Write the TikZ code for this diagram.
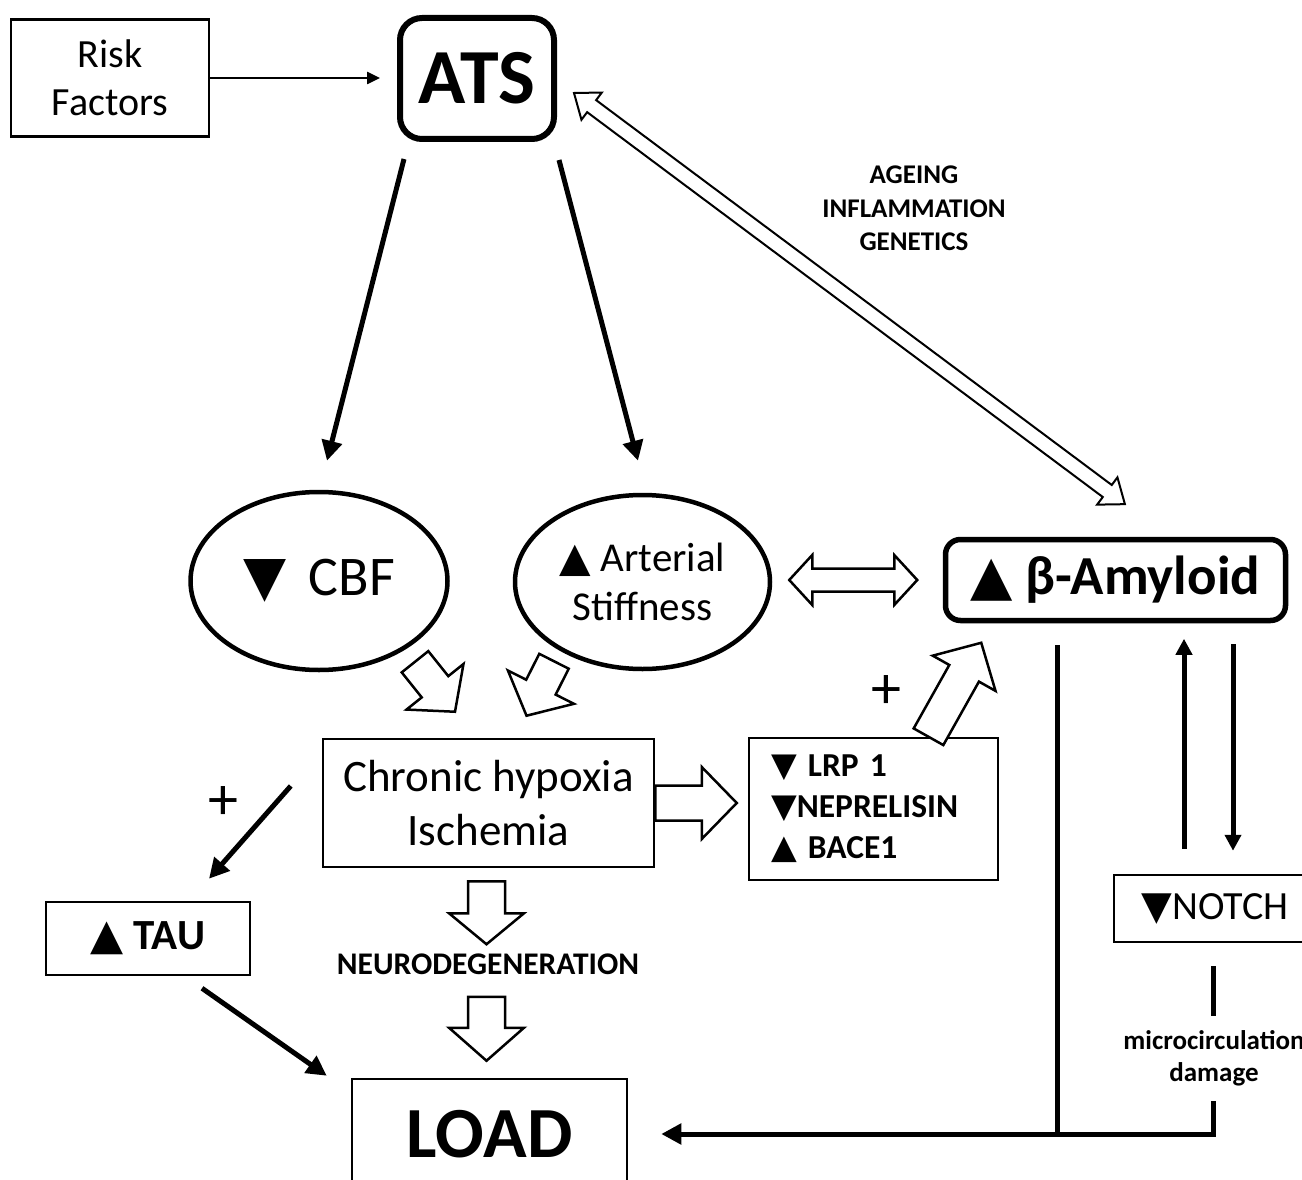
\documentclass[tikz,border=0pt]{standalone}
\usepackage{fontspec}
\setmainfont{Carlito}
\newfontfamily\trifont{DejaVu Sans}
\usepackage{tikz}
\usetikzlibrary{arrows.meta, shapes.geometric, calc, positioning}

\newcommand\triup{{\trifont ▲}}
\newcommand\tridn{{\trifont ▼}}
% hollow block arrows: [opts]{from}{to}{shaft half}{head half}{head length}
\newcommand\hollowarrow[6][]{%
  \draw[hollowline,#1] let \p1=(#2), \p2=(#3), \n1={atan2(\y2-\y1,\x2-\x1)}, \n2={veclen(\x2-\x1,\y2-\y1)} in
    [shift={(\p1)}, rotate=\n1]
    (0,#4) -- ({\n2-#6},#4) -- ({\n2-#6},#5) -- (\n2,0) -- ({\n2-#6},-#5) -- ({\n2-#6},-#4) -- (0,-#4) -- cycle;}
\newcommand\hollowdouble[6][]{%
  \draw[hollowline,#1] let \p1=(#2), \p2=(#3), \n1={atan2(\y2-\y1,\x2-\x1)}, \n2={veclen(\x2-\x1,\y2-\y1)} in
    [shift={(\p1)}, rotate=\n1]
    (0,0) -- (#6,#5) -- (#6,#4) -- ({\n2-#6},#4) -- ({\n2-#6},#5) -- (\n2,0)
    -- ({\n2-#6},-#5) -- ({\n2-#6},-#4) -- (#6,-#4) -- (#6,-#5) -- cycle;}

\begin{document}
\begin{tikzpicture}[x=1pt, y=-1pt,
    box/.style={draw, line width=2.5pt, inner sep=0pt},
    oval/.style={ellipse, draw, line width=4.5pt, inner sep=0pt},
    roundbox/.style={draw, rounded corners=#1, inner sep=0pt},
    heavy/.style={line width=5pt},
    heavyarr/.style={line width=5pt, -{Triangle[length=20pt,width=20pt]}},
    notcharr/.style={line width=5pt, -{Triangle[length=16pt,width=16pt]}},
    thinarr/.style={line width=2.5pt, -{Triangle[length=13pt,width=12pt]}},
    hollowline/.style={draw, fill=white, line width=2.5pt, line join=miter}]
	\useasboundingbox (0,0) rectangle (1302,1180);
	\fill[white] (0,0) rectangle (1302,1180);
	\clip (0,0) rectangle (1302,1180);

	\node[box, minimum width=198pt, minimum height=117pt, align=center, font={\fontsize{40}{48}\selectfont}] (risk) at (110,78) {Risk\\Factors};
	\node[roundbox=22pt, line width=6pt, minimum width=154pt, minimum height=121pt, font={\fontsize{78}{90}\bfseries\selectfont}] (ats) at (477,78.5) {ATS};
	\node[align=center, font={\fontsize{27}{33.5}\bfseries\selectfont}] (causes) at (914,208.5) {AGEING\\INFLAMMATION\\GENETICS};

	\node[oval, minimum width=257pt, minimum height=178pt, font={\fontsize{56}{60}\selectfont}] (cbf) at (319,581) {\tridn\hspace{0.4em}CBF};
	\node[oval, minimum width=255pt, minimum height=174pt, align=center, font={\fontsize{41}{49}\selectfont}] (art) at (642.5,582) {\triup\ Arterial\\Stiffness};
	\node[roundbox=15pt, line width=5.5pt, minimum width=340pt, minimum height=81pt, font={\fontsize{55}{60}\bfseries\selectfont}] (amy) at (1115.5,580) {\triup\ β-Amyloid};

	\node[box, minimum width=331pt, minimum height=128pt, align=center, font={\fontsize{45}{54}\selectfont}] (chronic) at (488.5,803) {Chronic hypoxia\\Ischemia};
	\node[box, minimum height=142pt, text width=205pt, inner xsep=22pt, align=left, font={\fontsize{33.5}{41}\bfseries\selectfont}] (lrp) at (873.5,809) {\tridn\ LRP 1\\\tridn NEPRELISIN\\\triup\ BACE1};
	\node[font={\fontsize{60}{64}\selectfont}] (plustau) at (223,803) {+};
	\node[font={\fontsize{60}{64}\selectfont}] (pluslrp) at (886,692) {+};

	\node[box, minimum width=204pt, minimum height=73pt, font={\fontsize{43}{48}\bfseries\selectfont}] (tau) at (148,938.5) {\triup\ TAU};
	\node[font={\fontsize{31.5}{34}\bfseries\selectfont}] (neuro) at (488,964) {NEURODEGENERATION};
	\node[box, minimum width=275pt, minimum height=110pt, font={\fontsize{72}{80}\bfseries\selectfont}] (load) at (489.5,1134) {LOAD};
	\node[box, minimum width=202pt, minimum height=67pt, font={\fontsize{40}{48}\selectfont}] (notch) at (1215,908.5) {\tridn NOTCH};
	\node[align=center, font={\fontsize{27}{32}\bfseries\selectfont}] (micro) at (1214,1058) {microcirculation\\damage};

	\draw[thinarr, shorten >=17pt] (risk.east) -- (risk.east -| ats.west);
	\draw[heavyarr] ($(ats.south west)+(7,17)$) -- ($(cbf.north)+(8,-29)$);
	\draw[heavyarr] ($(ats.south east)+(2,18)$) -- ($(art.north)+(-4.5,-32)$);
	\hollowdouble[line width=2pt]{$(ats.east)+(17,14.5)$}{$(amy.north)+(9.5,-32.5)$}{7.5}{17}{22}
	\hollowdouble{$(art.east)+(17,-2)$}{$(amy.west)+(-25.5,0)$}{11.5}{25}{23}

	\hollowarrow{$(chronic.north)+(-73.5,-76)$}{$(chronic.north)+(-33.5,-26)$}{17}{36.5}{32}
	\hollowarrow{$(chronic.north)+(65.5,-76.5)$}{$(chronic.north)+(38,-22)$}{16.5}{37}{32}
	\hollowarrow{chronic.east}{$(chronic.east -| lrp.west)+(-11,0)$}{17.5}{36}{35}
	\hollowarrow{$(lrp.north)+(55,0)$}{$(amy.south west)+(38.5,19.5)$}{17}{36}{35}
	\hollowarrow{$(chronic.south)+(-2,13)$}{$(chronic.south)+(-2,76)$}{18.5}{37.5}{31}
	\hollowarrow{$(load.north)+(-3,-81)$}{$(load.north)+(-3,-17)$}{18.5}{37.5}{33}

	\draw[heavyarr] ($(chronic.west)+(-31,-17)$) -- ($(tau.north)+(61,-22)$);
	\draw[heavyarr] ($(tau.south)+(54,12)$) -- ($(load.north west)+(-24,-2)$);

	\draw[notcharr] ($(notch.north)+(-31,-25)$) -- ($(amy.south)+(68.5,15.5)$);
	\draw[notcharr] ($(amy.south)+(117.5,21)$) -- ($(notch.north)+(18,-23)$);
	\coordinate (amyfoot) at ($(amy.south)+(-58.5,22)$);
	\draw[heavy] (amyfoot) -- (amyfoot |- load.east);
	\draw[heavy] ($(notch.south)+(-2,23)$) -- ++(0,50);
	\draw[heavyarr] ($(notch.south)+(-2,158)$) |- ($(load.east)+(33,0)$);
\end{tikzpicture}
\end{document}
